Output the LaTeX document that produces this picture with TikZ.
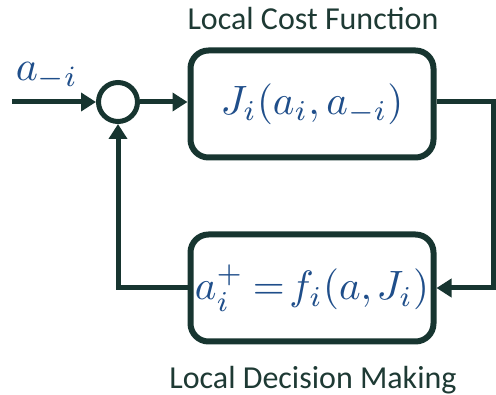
\documentclass[tikz,border=0pt]{standalone}
\usepackage{fontspec}
\usepackage{graphicx}
\setmainfont{Carlito}
\usetikzlibrary{arrows.meta}
\definecolor{linec}{HTML}{173530}
\definecolor{mathc}{HTML}{1F4E8A}
\definecolor{titlec}{HTML}{1E3A34}
\begin{document}
\begin{tikzpicture}[x=1pt,y=-1pt,
  blk/.style={draw=linec, line width=6pt, rounded corners=18pt, minimum width=243pt, minimum height=107pt, inner sep=0pt, text=mathc},
  conn/.style={draw=linec, line width=5pt, -{Triangle[length=15pt,width=18pt]}},
  ttl/.style={text=titlec, font=\fontsize{32}{35}\selectfont},
  lbl/.style={text=mathc}]
\useasboundingbox (0,0) rectangle (496,395);
\node[blk] (J) at (312,104) {\scalebox{4.1}{$J_i(a_i,a_{-i})$}};
\node[blk] (F) at (312,288) {\scalebox{4.1}{$a_i^+ \mkern-1mu= \mkern-3mu f_i(a,\mkern-1mu J_i)$}};
\node[draw=linec, line width=5pt, circle, minimum size=39pt, inner sep=0pt] (S) at (118,102) {};
\coordinate (in) at (12,102);
\node[ttl] (t1) at (313,19) {Local Cost Function};
\node[ttl] (t2) at (313,380) {Local Decision Making};
\node[lbl] (ai) at (47,76) {\scalebox{4.2}{$a_{-i}$}};
\coordinate (r) at (493,102);
\coordinate (l) at (118,288);
\draw[conn] (in) -- (S.west);
\draw[conn] (S.east) -- (S.east -| J.west);
\draw[conn, rounded corners=0pt] (J.east |- r) -- (r) |- (F.east);
\draw[conn] (F.west) -- (l) -- (S.south);
\end{tikzpicture}
\end{document}
